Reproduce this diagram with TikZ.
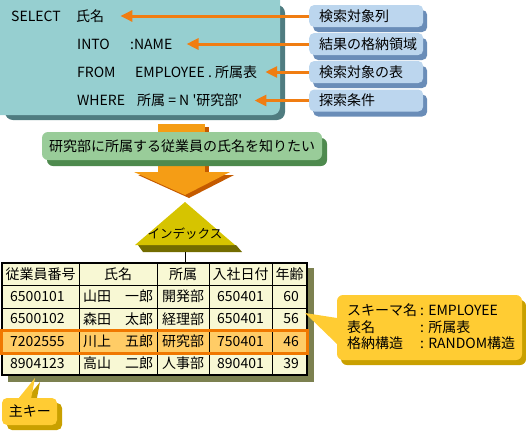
\documentclass[tikz,border=0pt]{standalone}
\usepackage{fontspec}
\setmainfont{Noto Sans CJK JP}
\usepackage{tikz}
\usetikzlibrary{arrows.meta,positioning,calc,shadows}
\definecolor{tl}{HTML}{96CFD0}
\definecolor{tlsh}{HTML}{4F7C80}
\definecolor{bl}{HTML}{BCD6EE}
\definecolor{blsh}{HTML}{6A8DB8}
\definecolor{gn}{HTML}{99CC99}
\definecolor{gnsh}{HTML}{4E8A4E}
\definecolor{org}{HTML}{F07D12}
\definecolor{ar}{HTML}{F59D15}
\definecolor{arsh}{HTML}{C45A00}
\definecolor{ix}{HTML}{D6C400}
\definecolor{ixsh}{HTML}{736C00}
\definecolor{tb}{HTML}{F8F8D4}
\definecolor{tbsh}{HTML}{7C8150}
\definecolor{hl}{HTML}{FFCC66}
\definecolor{hlb}{HTML}{F07800}
\definecolor{yl}{HTML}{FFCC33}
\definecolor{ylsh}{HTML}{C9A000}

\begin{document}
\begin{tikzpicture}[x=1pt,y=-1pt,
  txt/.style={font=\fontsize{14}{16}\selectfont,inner sep=0pt,anchor=west},
  lab/.style={txt,anchor=center},
  tag/.style={org,line width=3pt,-{Triangle[length=12pt,width=11pt]}},
  qbox/.style={txt,fill=bl,rounded corners=5pt,minimum height=22pt,text width=94pt,
    inner xsep=10pt,align=left,
    drop shadow={shadow xshift=4pt,shadow yshift=-5pt,fill=blsh,opacity=1}},
  gbox/.style={lab,fill=gn,rounded corners=6pt,minimum width=280pt,minimum height=28pt,
    drop shadow={shadow xshift=5pt,shadow yshift=-6pt,fill=gnsh,opacity=1}}]
  \useasboundingbox (0,0) rectangle (526,431);

  % SQL statement
  \fill[tlsh,rounded corners=8pt] (5,5) rectangle (285,120);
  \fill[tl,rounded corners=8pt] (-8,-8) rectangle (280,115);
  \node[txt] (s1) at (11,16) {SELECT};
  \node[txt] (s1v) at (76,16) {氏名};
  \node[txt] (s2) at (77,44) {INTO};
  \node[txt] (s2v) at (130,44) {:NAME};
  \node[txt] (s3) at (77,72) {FROM};
  \node[txt] (s3v) at (135,72) {EMPLOYEE . 所属表};
  \node[txt] (s4) at (77,100) {WHERE};
  \node[txt] (s4v) at (137,100) {所属 = N \textquotesingle 研究部\textquotesingle};

  \node[qbox] (q1) at (309,16) {検索対象列};
  \node[qbox] (q2) at (309,44) {結果の格納領域};
  \node[qbox] (q3) at (309,72) {検索対象の表};
  \node[qbox] (q4) at (309,100.5) {探索条件};

  \draw[tag,shorten >=16pt] (q1.west) -- (q1.west -| s1v.east);
  \draw[tag,shorten >=14pt] (q2.west) -- (q2.west -| s2v.east);
  \draw[tag,shorten >=8pt] (q3.west) -- (q3.west -| s3v.east);
  \draw[tag,shorten >=12pt] (q4.west) -- (q4.west -| s4v.east);

  % big arrow
  \fill[arsh] (205,127) rectangle (209,172);
  \fill[ar] (158,124) rectangle (205,172);
  \fill[arsh] (138,175) -- (234,175) -- (189,198) -- cycle;
  \fill[ar] (134,172) -- (230,172) -- (185,195) -- cycle;
  \node[gbox] (want) at (182,146) {研究部に所属する従業員の氏名を知りたい};

  % index
  \fill[ixsh] (138,245) -- (236,245) -- (242,252) -- (143,252) -- cycle;
  \fill[ix] (185,202) -- (235,245) -- (135,245) -- cycle;
  \node[lab,font=\fontsize{12.5}{14}\selectfont] (idx) at (185,234) {インデックス};
  \coordinate (ib) at (185,252);
  \coordinate (tt) at (185,263);
  \draw[line width=1pt] (ib) -- (tt);

  % table
  \fill[tbsh] (8,268) rectangle (314,382);
  \fill[tb] (2,263) rectangle (307,375);
  \fill[hl] (2,330) rectangle (307,353);
  \foreach \y in {285,308,330,352}
    \draw[line width=0.8pt] (2,\y) -- (307,\y);
  \foreach \x in {79,157,209,272}
    \draw[line width=0.8pt] (\x,263) -- (\x,375);
  \draw[line width=1.3pt] (2,263) rectangle (307,375);
  \draw[hlb,line width=3pt] (1.5,330.5) rectangle (307,353.5);

  \foreach \x/\t [count=\i] in {40.5/従業員番号,118/氏名,183/所属,240.5/入社日付,289.5/年齢}
    \node[lab] (h\i) at (\x,274) {\t};
  \foreach \y/\a/\b/\c/\d/\e [count=\r] in {
      296.5/6500101/山田　一郎/開発部/650401/60,
      319/6500102/森田　太郎/経理部/650401/56,
      341.5/7202555/川上　五郎/研究部/750401/46,
      363.5/8904123/高山　二郎/人事部/890401/39} {
    \node[txt] (r\r-a) at (10,\y) {\a};
    \node[lab] (r\r-b) at (118,\y) {\b};
    \node[lab] (r\r-c) at (183,\y) {\c};
    \node[lab] (r\r-d) at (240.5,\y) {\d};
    \node[txt,anchor=east] (r\r-e) at (299,\y) {\e};
  }

  % schema note
  \fill[ylsh,rounded corners=6pt] (341,300) rectangle (526,365);
  \fill[yl] (337,318) -- (305,313) -- (337,344) -- cycle;
  \fill[yl,rounded corners=6pt] (337,295) rectangle (522,360);
  \node[txt] (k1) at (347,310) {スキーマ名};
  \node[txt] (v1) at (420,310) {: EMPLOYEE};
  \node[txt] (k2) at (347,327) {表名};
  \node[txt] (v2) at (420,327) {: 所属表};
  \node[txt] (k3) at (347,343) {格納構造};
  \node[txt] (v3) at (420,343) {: RANDOM構造};

  % primary key
  \fill[ylsh] (40,382) -- (23,403) -- (36,403) -- cycle;
  \fill[ylsh,rounded corners=5pt] (7,403) rectangle (62,430);
  \fill[yl] (35,378) -- (18,399) -- (31,399) -- cycle;
  \fill[yl,rounded corners=5pt] (2,398) rectangle (57,425);
  \node[lab] (pk) at (30,411) {主キー};
\end{tikzpicture}
\end{document}
